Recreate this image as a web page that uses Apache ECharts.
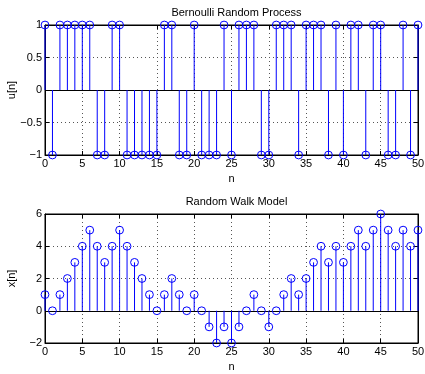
<!DOCTYPE html>
<html><head><meta charset="utf-8">
<script src="https://cdn.jsdelivr.net/npm/echarts@6/dist/echarts.min.js"></script>
<style>html,body{margin:0;padding:0;background:#fff}#c{width:425px;height:374px}</style>
</head><body><div id="c"></div>
<script>
const n = [];
for (let i = 0; i <= 50; i++) n.push(i);
const u = [1,-1,1,1,1,1,1,-1,-1,1,1,-1,-1,-1,-1,-1,1,1,-1,-1,1,-1,-1,-1,1,-1,1,1,1,-1,-1,1,1,1,-1,1,1,1,-1,1,-1,1,1,-1,1,1,-1,-1,1,-1,1];
const x = [1,0,1,2,3,4,5,4,3,4,5,4,3,2,1,0,1,2,1,0,1,0,-1,-2,-1,-2,-1,0,1,0,-1,0,1,2,1,2,3,4,3,4,3,4,5,4,5,6,5,4,5,4,5];
const titles = ['Bernoulli Random Process', 'Random Walk Model'];
const ylabels = ['u[n]', 'x[n]'];
const xTicks = {min: 0, max: 50, interval: 5};
const yTicksTop = {min: -1, max: 1, interval: 0.5};
const yTicksBot = {min: -2, max: 6, interval: 2};

const FONT = 'Liberation Sans, Arial, sans-serif';
const fmt = v => String(v).replace('-', '\u2212');
const chart = echarts.init(document.getElementById('c'), null, {renderer: 'canvas'});

const grids = [
  {left: 45, top: 25, width: 373, height: 130},
  {left: 45, top: 214, width: 373, height: 129}
];
const gridOpts = grids.map(g => Object.assign({show: true, borderColor: '#000', borderWidth: 1, backgroundColor: '#fff', containLabel: false, outerBoundsMode: 'none'}, g));

const xAxes = [], yAxes = [];
[0, 1].forEach(i => {
  xAxes.push({
    type: 'value', gridIndex: i, min: xTicks.min, max: xTicks.max, interval: xTicks.interval,
    position: 'bottom',
    name: 'n', nameLocation: 'middle', nameGap: 18, nameMoveOverlap: false,
    nameTextStyle: {color: '#000', fontSize: 11, fontFamily: FONT},
    axisLine: {show: true, onZero: false, lineStyle: {color: '#000'}},
    axisTick: {show: true, inside: true, length: 4, lineStyle: {color: '#000'}},
    axisLabel: {color: '#000', fontSize: 11, fontFamily: FONT, margin: 3, formatter: fmt},
    splitLine: {show: true, lineStyle: {color: '#555', type: [1, 3], width: 1}}
  });
  xAxes.push({
    type: 'value', gridIndex: i, min: xTicks.min, max: xTicks.max, interval: xTicks.interval,
    position: 'top',
    axisLine: {show: true, onZero: false, lineStyle: {color: '#000'}},
    axisTick: {show: true, inside: true, length: 4, lineStyle: {color: '#000'}},
    axisLabel: {show: false}, splitLine: {show: false}
  });
  const yt = i === 0 ? yTicksTop : yTicksBot;
  yAxes.push({
    type: 'value', gridIndex: i, min: yt.min, max: yt.max, interval: yt.interval,
    position: 'left',
    name: ylabels[i], nameLocation: 'middle', nameGap: 28, nameRotate: 90, nameMoveOverlap: false,
    nameTextStyle: {color: '#000', fontSize: 11, fontFamily: FONT},
    axisLine: {show: true, onZero: false, lineStyle: {color: '#000'}},
    axisTick: {show: true, inside: true, length: 4, lineStyle: {color: '#000'}},
    axisLabel: {color: '#000', fontSize: 11, fontFamily: FONT, margin: 3, formatter: fmt},
    splitLine: {show: true, lineStyle: {color: '#555', type: [1, 3], width: 1}}
  });
  yAxes.push({
    type: 'value', gridIndex: i, min: yt.min, max: yt.max, interval: yt.interval,
    position: 'right',
    axisLine: {show: true, onZero: false, lineStyle: {color: '#000'}},
    axisTick: {show: true, inside: true, length: 4, lineStyle: {color: '#000'}},
    axisLabel: {show: false}, splitLine: {show: false}
  });
});

function stemSeries(vals, gi) {
  return {
    type: 'custom', xAxisIndex: gi * 2, yAxisIndex: gi * 2, clip: false, z: 5,
    data: n.map((k, j) => [k, vals[j]]),
    renderItem: (params, api) => {
      const p0 = api.coord([api.value(0), 0]);
      const p1 = api.coord([api.value(0), api.value(1)]);
      return {type: 'group', children: [
        {type: 'line', shape: {x1: p0[0], y1: p0[1], x2: p1[0], y2: p1[1]}, style: {stroke: '#0000ff', lineWidth: 1}},
        {type: 'circle', shape: {cx: p1[0], cy: p1[1], r: 3.9}, style: {stroke: '#0000ff', fill: 'none', lineWidth: 1}}
      ]};
    },
    markLine: {
      silent: true, symbol: 'none', label: {show: false}, animation: false,
      lineStyle: {color: '#000', type: 'solid', width: 1},
      data: [[{coord: [xTicks.min, 0]}, {coord: [xTicks.max, 0]}]]
    }
  };
}

chart.setOption({
  animation: false,
  title: titles.map((t, i) => ({
    text: t, left: 45 + 373 / 2, textAlign: 'center', top: i === 0 ? 2 : 191,
    textStyle: {fontSize: 11, fontWeight: 'normal', color: '#000', fontFamily: FONT}
  })),
  grid: gridOpts,
  xAxis: xAxes,
  yAxis: yAxes,
  series: [stemSeries(u, 0), stemSeries(x, 1)]
});
</script></body></html>
